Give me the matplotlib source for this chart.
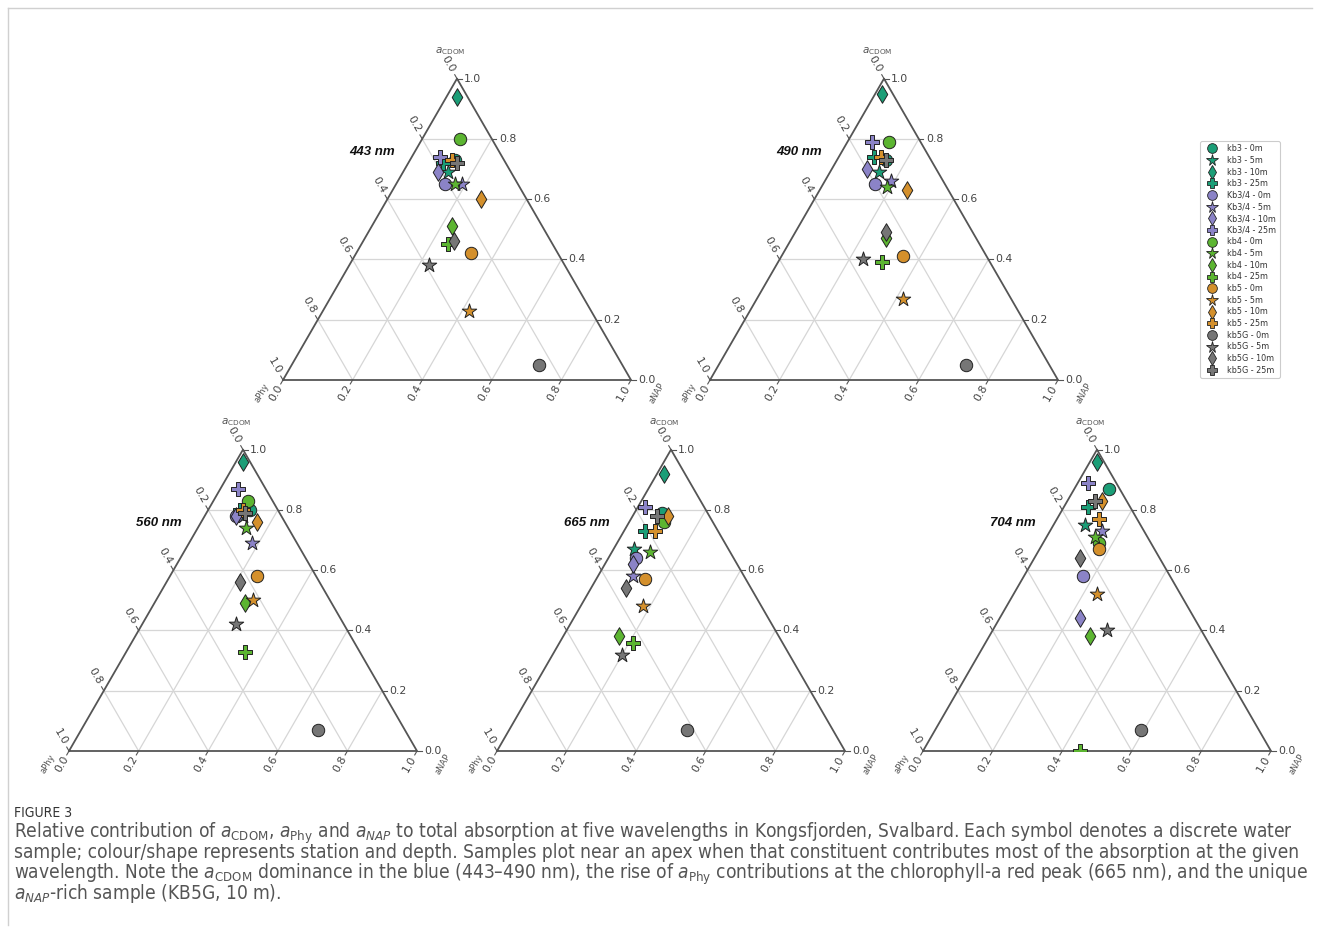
import numpy as np
import matplotlib
matplotlib.use("Agg")
import matplotlib.pyplot as plt
from matplotlib.lines import Line2D

# stations / depths -> colour / marker
stations = ["kb3", "Kb3/4", "kb4", "kb5", "kb5G"]
depths = ["0m", "5m", "10m", "25m"]
station_colors = ["#1b9e77", "#8b83c7", "#5cb531", "#d4902c", "#767676"]
depth_markers = ["o", "*", "d", "P"]

# fractions, legend order (station x depth)
cdom_443 = [0.73, 0.69, 0.94, 0.72, 0.65, 0.65, 0.69, 0.74, 0.80, 0.65, 0.51, 0.45,
            0.42, 0.23, 0.60, 0.73, 0.05, 0.38, 0.46, 0.72]
nap_443 = [0.13, 0.13, 0.03, 0.10, 0.14, 0.19, 0.10, 0.08, 0.11, 0.17, 0.23, 0.25,
           0.33, 0.42, 0.27, 0.12, 0.71, 0.23, 0.26, 0.14]

cdom_490 = [0.73, 0.69, 0.95, 0.74, 0.65, 0.66, 0.70, 0.79, 0.79, 0.64, 0.47, 0.39,
            0.41, 0.27, 0.63, 0.74, 0.05, 0.40, 0.49, 0.73]
nap_490 = [0.14, 0.14, 0.02, 0.10, 0.15, 0.19, 0.10, 0.07, 0.12, 0.19, 0.27, 0.30,
           0.35, 0.42, 0.25, 0.12, 0.71, 0.24, 0.26, 0.14]

cdom_560 = [0.80, 0.78, 0.96, 0.80, 0.78, 0.69, 0.78, 0.87, 0.83, 0.74, 0.49, 0.33,
            0.58, 0.50, 0.76, 0.80, 0.07, 0.42, 0.56, 0.79]
nap_560 = [0.12, 0.11, 0.02, 0.09, 0.09, 0.18, 0.09, 0.05, 0.10, 0.14, 0.26, 0.34,
           0.25, 0.28, 0.16, 0.10, 0.68, 0.27, 0.21, 0.11]

cdom_665 = [0.79, 0.67, 0.92, 0.73, 0.64, 0.58, 0.62, 0.81, 0.76, 0.66, 0.38, 0.36,
            0.57, 0.48, 0.78, 0.73, 0.07, 0.32, 0.54, 0.78]
nap_665 = [0.08, 0.06, 0.02, 0.06, 0.08, 0.10, 0.08, 0.02, 0.10, 0.11, 0.16, 0.21,
           0.14, 0.18, 0.10, 0.09, 0.51, 0.20, 0.10, 0.07]

cdom_704 = [0.87, 0.75, 0.96, 0.81, 0.58, 0.73, 0.44, 0.89, 0.69, 0.71, 0.38, 0.00,
            0.67, 0.52, 0.83, 0.77, 0.07, 0.40, 0.64, 0.83]
nap_704 = [0.10, 0.09, 0.02, 0.07, 0.17, 0.15, 0.23, 0.03, 0.16, 0.14, 0.29, 0.45,
           0.17, 0.24, 0.10, 0.12, 0.59, 0.33, 0.13, 0.08]

wavelengths = ["443 nm", "490 nm", "560 nm", "665 nm", "704 nm"]
cdom_all = [cdom_443, cdom_490, cdom_560, cdom_665, cdom_704]
nap_all = [nap_443, nap_490, nap_560, nap_665, nap_704]
tick_values = [0.0, 0.2, 0.4, 0.6, 0.8, 1.0]

# bottom-left corner of each triangle in pixels
corners = [(283, 380), (710, 380), (69, 751), (497, 751), (923, 751)]
TRI_W = 348
FW, FH = 1320, 933
H = np.sqrt(3) / 2

plt.rcParams["font.family"] = "DejaVu Sans"
fig = plt.figure(figsize=(FW / 100, FH / 100), dpi=100)


def tern(c, n):
    c = np.asarray(c, dtype=float)
    n = np.asarray(n, dtype=float)
    return n + 0.5 * c, c * H


sizes = {"o": 80, "*": 120, "d": 80, "P": 90}
edge = "#555555"
tick_col = "#444444"
grid_col = "#d6d6d6"

for wl, cdom, nap, (x0, y0) in zip(wavelengths, cdom_all, nap_all, corners):
    ax = fig.add_axes([x0 / FW, 1 - y0 / FH, TRI_W / FW, TRI_W * H / FH])
    ax.set_xlim(0, 1)
    ax.set_ylim(0, H)
    ax.axis("off")

    # grid
    for v in tick_values[1:-1]:
        ax.plot(*tern([v, v], [0, 1 - v]), color=grid_col, lw=0.9, zorder=1, clip_on=False)
        ax.plot(*tern([0, 1 - v], [v, v]), color=grid_col, lw=0.9, zorder=1, clip_on=False)
        ax.plot(*tern([0, 1 - v], [1 - v, 0]), color=grid_col, lw=0.9, zorder=1, clip_on=False)
    # frame
    ax.plot(*tern([0, 0, 1, 0], [0, 1, 0, 0]), color=edge, lw=1.3, zorder=2, clip_on=False)

    # ticks and labels
    dl = np.array([-0.5, H])   # left side, along aPhy lines
    db = np.array([-0.5, -H])  # bottom side, along aNAP lines
    for v in tick_values:
        # right: aCDOM
        px, py = tern(v, 1 - v)
        ax.plot([px, px + 0.013], [py, py], color=edge, lw=0.8, clip_on=False)
        ax.text(px + 0.02, py, f"{v:.1f}", fontsize=7.8, color=tick_col,
                ha="left", va="center")
        # left: aPhy (0 at top)
        px, py = tern(1 - v, 0)
        ax.plot([px, px + 0.013 * dl[0]], [py, py + 0.013 * dl[1]], color=edge, lw=0.8, clip_on=False)
        ax.text(px + 0.048 * dl[0], py + 0.048 * dl[1], f"{v:.1f}", fontsize=7.8,
                color=tick_col, ha="center", va="center", rotation=-60)
        # bottom: aNAP
        px, py = tern(0, v)
        ax.plot([px, px + 0.013 * db[0]], [py, py + 0.013 * db[1]], color=edge, lw=0.8, clip_on=False)
        ax.text(px + 0.042 * db[0], py + 0.042 * db[1], f"{v:.1f}", fontsize=7.8,
                color=tick_col, ha="center", va="center", rotation=60)

    ax.text(0.48, H + 0.08, r"$a_{\mathrm{CDOM}}$", fontsize=7.5, color="#555555",
            ha="center", va="center")
    ax.text(-0.062, -0.036, "aPhy", fontsize=6, color="#555555",
            ha="center", va="center", rotation=60)
    ax.text(1.075, -0.038, "aNAP", fontsize=6, color="#555555",
            ha="center", va="center", rotation=60)
    ax.text(0.257, 0.655, wl, fontsize=9.5, fontweight="bold", fontstyle="italic",
            family="Liberation Sans", ha="center", va="center", color="#111111")

    # samples
    i = 0
    for col in station_colors:
        for mk in depth_markers:
            x, y = tern(cdom[i], nap[i])
            ax.scatter(x, y, s=sizes[mk], marker=mk, color=col, edgecolors="#222222",
                       linewidths=0.7, zorder=3)
            i += 1

# legend
handles = []
labels = []
for st, col in zip(stations, station_colors):
    for d, mk in zip(depths, depth_markers):
        handles.append(Line2D([], [], linestyle="none", marker=mk, color=col,
                              markeredgecolor="#222222", markeredgewidth=0.6,
                              markersize=8.5 if mk == "*" else 7))
        labels.append(f"{st} - {d}")
leg = fig.legend(handles, labels, loc="upper left", bbox_to_anchor=(1200 / FW, 1 - 141 / FH),
                 fontsize=5.8, labelspacing=0.33, handlelength=2.1, handletextpad=0.9,
                 borderaxespad=0, frameon=True, edgecolor="#cccccc", framealpha=1)
leg.get_frame().set_linewidth(0.8)
for t in leg.get_texts():
    t.set_color("#333333")

# figure border
fig.add_artist(Line2D([8 / FW, 1312 / FW], [1 - 8 / FH, 1 - 8 / FH], color="#d0d0d0", lw=1))
fig.add_artist(Line2D([8 / FW, 8 / FW], [1 - 8 / FH, 1 - 925 / FH], color="#d0d0d0", lw=1))

# caption (condensed face, also for the math parts)
plt.rcParams["mathtext.fontset"] = "custom"
plt.rcParams["mathtext.rm"] = "DejaVu Sans:stretch=condensed"
plt.rcParams["mathtext.it"] = "DejaVu Sans:style=italic:stretch=condensed"
caption = [
    r"Relative contribution of $a_{\mathrm{CDOM}}$, $a_{\mathrm{Phy}}$ and $a_{NAP}$ to total absorption at five wavelengths in Kongsfjorden, Svalbard. Each symbol denotes a discrete water",
    "sample; colour/shape represents station and depth. Samples plot near an apex when that constituent contributes most of the absorption at the given",
    r"wavelength. Note the $a_{\mathrm{CDOM}}$ dominance in the blue (443–490 nm), the rise of $a_{\mathrm{Phy}}$ contributions at the chlorophyll-a red peak (665 nm), and the unique",
    r"$a_{NAP}$-rich sample (KB5G, 10 m).",
]
fig_label = fig.text(14 / FW, 1 - 817 / FH, "FIGURE 3", fontsize=10, color="#333333",
                     family="DejaVu Sans", fontstretch="condensed", ha="left", va="baseline")
cap_texts = []
for k, line in enumerate(caption):
    cap_texts.append(fig.text(14 / FW, 1 - (838 + 20.4 * k) / FH, line, fontsize=10,
                              color="#555555", family="DejaVu Sans", fontstretch="condensed",
                              ha="left", va="baseline"))

# fit caption size so that the longest line spans the caption width
fig.canvas.draw()
r = fig.canvas.get_renderer()
widest = max(t.get_window_extent(r).width for t in cap_texts[:3])
fs = 10 * (1294 / widest)
for t in cap_texts:
    t.set_fontsize(fs)
w = fig_label.get_window_extent(r).width
fig_label.set_fontsize(10 * 58 / w)

fig.savefig("out.png", dpi=100)
